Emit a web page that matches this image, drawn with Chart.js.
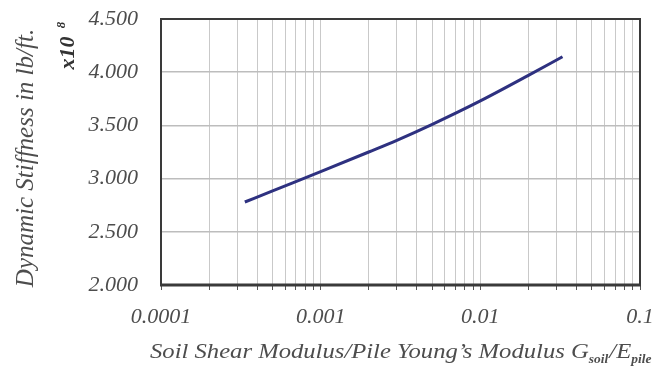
<!DOCTYPE html>
<html>
<head>
<meta charset="utf-8">
<script src="https://cdn.jsdelivr.net/npm/chart.js@4/dist/chart.umd.min.js"></script>
<style>
  html, body { margin: 0; padding: 0; background: #fff; }
  #wrap { width: 664px; height: 368px; }
</style>
</head>
<body>
<div id="wrap"><canvas id="stiffChart" width="664" height="368"></canvas></div>
<script>
// G_soil / E_pile ratio and dynamic stiffness (x10^8 lb/ft)
const modulusRatio = [0.000335, 0.0005, 0.001, 0.002, 0.003, 0.005, 0.01, 0.02, 0.0327];
const stiffness = [2.78, 2.885, 3.065, 3.25, 3.36, 3.51, 3.73, 3.97, 4.145];
const xTickValues = [
  0.0001, 0.0002, 0.0003, 0.0004, 0.0005, 0.0006, 0.0007, 0.0008, 0.0009,
  0.001, 0.002, 0.003, 0.004, 0.005, 0.006, 0.007, 0.008, 0.009,
  0.01, 0.02, 0.03, 0.04, 0.05, 0.06, 0.07, 0.08, 0.09, 0.1
];
const xTickLabels = { 0.0001: '0.0001', 0.001: '0.001', 0.01: '0.01', 0.1: '0.1' };
const yTickLabels = ['2.000', '2.500', '3.000', '3.500', '4.000', '4.500'];

const serif = '"Liberation Serif", "DejaVu Serif", serif';
const textColor = '#4d4d4d';

// axis titles drawn by hand (subscripts + the x10^8 marker)
const titlesPlugin = {
  id: 'titles',
  afterDraw(chart) {
    const ctx = chart.ctx;
    ctx.save();
    ctx.fillStyle = textColor;
    ctx.textBaseline = 'alphabetic';

    // x axis title with subscripts
    const parts = [
      ['Soil Shear Modulus/Pile Young\u2019s Modulus G', false],
      ['soil', true],
      ['/E', false],
      ['pile', true]
    ];
    ctx.translate(150, 358);
    ctx.scale(1.12, 1);
    let x = 0;
    parts.forEach(([txt, sub]) => {
      ctx.font = sub ? 'italic bold 12px ' + serif : 'italic 22px ' + serif;
      ctx.fillText(txt, x, sub ? 5 : 0);
      x += ctx.measureText(txt).width + (sub ? 1 : 0);
    });
    ctx.restore();

    // y axis title
    ctx.save();
    ctx.fillStyle = textColor;
    ctx.translate(33, 158);
    ctx.rotate(-Math.PI / 2);
    ctx.textAlign = 'center';
    ctx.font = 'italic 25px ' + serif;
    ctx.fillText('Dynamic Stiffness in lb/ft.', 0, 0);
    ctx.restore();

    // x10^8 marker
    ctx.save();
    ctx.fillStyle = '#333';
    ctx.translate(74, 47);
    ctx.rotate(-Math.PI / 2);
    ctx.textAlign = 'center';
    ctx.font = 'bold italic 22px ' + serif;
    ctx.fillText('x10', -6, 0);
    ctx.font = 'bold italic 13px ' + serif;
    ctx.fillText('8', 22, -9);
    ctx.restore();

    // plot frame
    const a = chart.chartArea;
    ctx.save();
    ctx.strokeStyle = '#3a3a3a';
    ctx.lineWidth = 2;
    ctx.strokeRect(a.left, a.top, a.right - a.left, a.bottom - a.top);
    ctx.lineWidth = 3;
    ctx.beginPath();
    ctx.moveTo(a.left - 1, a.bottom);
    ctx.lineTo(a.right + 1, a.bottom);
    ctx.stroke();
    ctx.restore();
  }
};

new Chart(document.getElementById('stiffChart'), {
  type: 'line',
  data: {
    datasets: [{
      data: modulusRatio.map((v, i) => ({ x: v, y: stiffness[i] })),
      borderColor: '#2e3180',
      borderWidth: 3,
      pointRadius: 0,
      cubicInterpolationMode: 'monotone',
      fill: false
    }]
  },
  options: {
    responsive: false,
    animation: false,
    layout: { padding: { left: 0, right: 24, top: 19, bottom: 0 } },
    plugins: { legend: { display: false }, tooltip: { enabled: false } },
    scales: {
      x: {
        type: 'logarithmic',
        min: 0.0001,
        max: 0.1,
        afterBuildTicks(scale) {
          scale.ticks = xTickValues.map(v => ({ value: v, major: !!xTickLabels[v] }));
        },
        afterFit(scale) {
          scale.height = 83;
          scale.paddingLeft = 0;
          scale.paddingRight = 0;
        },
        grid: {
          color: '#c9c9c9',
          lineWidth: 1,
          drawTicks: true,
          tickLength: 5,
          tickColor: '#555'
        },
        border: { display: false },
        ticks: {
          autoSkip: false,
          maxRotation: 0,
          padding: 14,
          color: textColor,
          font: { family: serif, style: 'italic', size: 22 },
          callback: v => xTickLabels[v] || ''
        }
      },
      y: {
        min: 2,
        max: 4.5,
        afterFit(scale) {
          scale.width = 161;
          scale.paddingTop = 0;
          scale.paddingBottom = 0;
        },
        grid: { color: '#bdbdbd', lineWidth: 1.5, drawTicks: false },
        border: { display: false },
        ticks: {
          stepSize: 0.5,
          padding: 23,
          color: textColor,
          font: { family: serif, style: 'italic', size: 22 },
          callback: (v) => yTickLabels[Math.round((v - 2) / 0.5)]
        }
      }
    }
  },
  plugins: [titlesPlugin]
});
</script>
</body>
</html>
